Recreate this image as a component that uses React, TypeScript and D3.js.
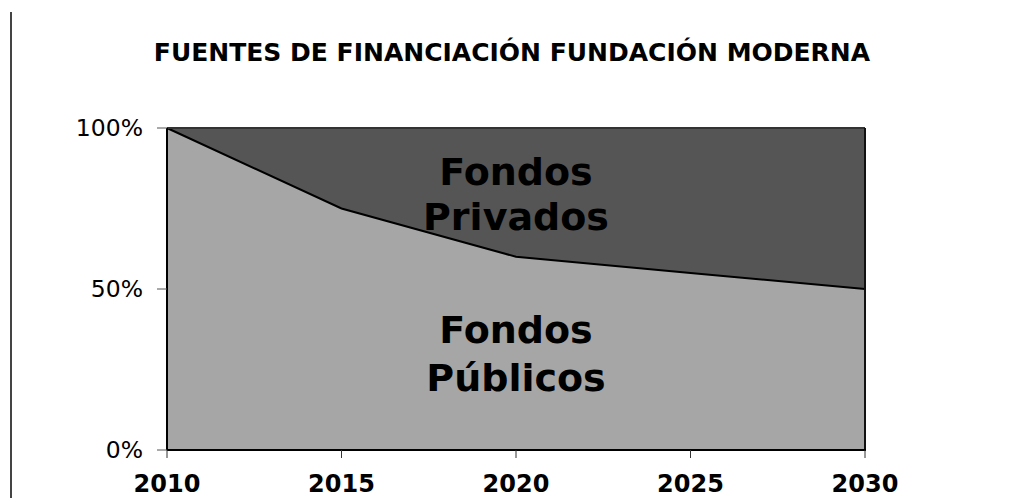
import React from 'react'
import * as d3 from 'd3'

// data
const years = [2010, 2015, 2020, 2025, 2030]
const publicShare = [100, 75, 60, 55, 50] // % fondos públicos
const yTicks = [0, 50, 100]
const title = 'FUENTES DE FINANCIACIÓN FUNDACIÓN MODERNA'

const width = 1031
const height = 498
const margin = { top: 128, right: 166, bottom: 48, left: 167 }

const App = () => {
  const x = d3.scaleLinear()
    .domain([2010, 2030])
    .range([margin.left, width - margin.right])
  const y = d3.scaleLinear()
    .domain([0, 100])
    .range([height - margin.bottom, margin.top])

  const rows = years.map((yr, i) => ({ yr, pub: publicShare[i] }))

  const publicArea = d3.area<any>()
    .x(d => x(d.yr))
    .y0(y(0))
    .y1(d => y(d.pub))
  const privateArea = d3.area<any>()
    .x(d => x(d.yr))
    .y0(d => y(d.pub))
    .y1(y(100))
  const boundary = d3.line<any>()
    .x(d => x(d.yr))
    .y(d => y(d.pub))

  const font = 'Verdana, "DejaVu Sans", sans-serif'
  const x0 = x(2010), x1 = x(2030)

  return (
    <svg width={width} height={height} style={{ position: 'absolute', left: 0, top: 0 }}
      fontFamily={font}>
      {/* frame edge at the left */}
      <line x1={11} x2={11} y1={12} y2={height} stroke="#444" strokeWidth={2} />

      <text x={512} y={61} textAnchor="middle" fontWeight="bold" fontSize={25}>{title}</text>

      <path d={privateArea(rows)!} fill="#555555" />
      <path d={publicArea(rows)!} fill="#a6a6a6" />
      <path d={boundary(rows)!} fill="none" stroke="#000" strokeWidth={2} />

      {/* plot borders */}
      <line x1={x0} x2={x1} y1={y(100)} y2={y(100)} stroke="#333" strokeWidth={2} />
      <line x1={x1} x2={x1} y1={y(100)} y2={y(0)} stroke="#111" strokeWidth={2} />
      <line x1={x0} x2={x0} y1={y(100)} y2={y(0)} stroke="#000" strokeWidth={2} />
      <line x1={x0} x2={x1 + 1} y1={y(0)} y2={y(0)} stroke="#000" strokeWidth={2} />

      {yTicks.map(t => (
        <g key={t}>
          <line x1={x0 - 10} x2={x0} y1={y(t)} y2={y(t)} stroke="#555" strokeWidth={1} />
          <text x={143} y={y(t)} dy="0.36em" textAnchor="end" fontSize={23.5}>{t}%</text>
        </g>
      ))}

      {years.map(yr => (
        <g key={yr}>
          <line x1={x(yr)} x2={x(yr)} y1={y(0)} y2={y(0) + 8} stroke="#333" strokeWidth={1} />
          <text x={x(yr)} y={492} textAnchor="middle" fontWeight="bold" fontSize={24}>{yr}</text>
        </g>
      ))}

      <text x={x(2020)} y={185} textAnchor="middle" fontWeight="bold" fontSize={38}>Fondos</text>
      <text x={x(2020)} y={230} textAnchor="middle" fontWeight="bold" fontSize={38}>Privados</text>
      <text x={x(2020)} y={343} textAnchor="middle" fontWeight="bold" fontSize={38}>Fondos</text>
      <text x={x(2020)} y={391} textAnchor="middle" fontWeight="bold" fontSize={38}>Públicos</text>
    </svg>
  )
}

export default App
